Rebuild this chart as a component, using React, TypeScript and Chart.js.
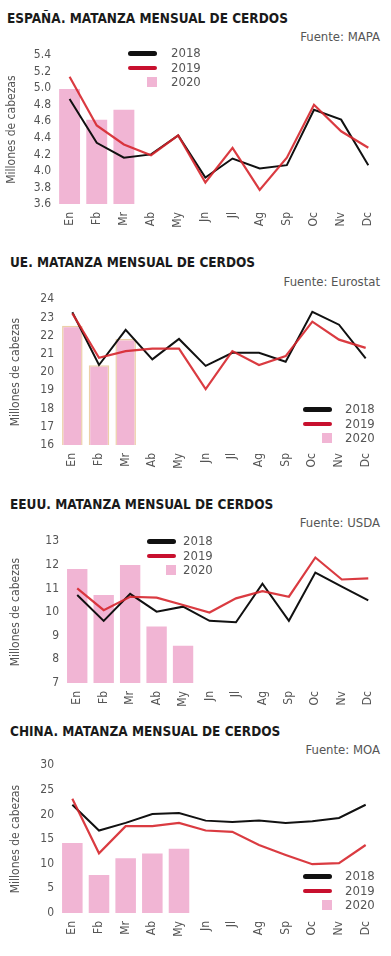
import React, { useEffect, useRef } from "react";
import { Chart, registerables } from "chart.js";
Chart.register(...registerables);

const months = ["En", "Fb", "Mr", "Ab", "My", "Jn", "Jl", "Ag", "Sp", "Oc", "Nv", "Dc"];
const seriesNames = ["2018", "2019", "2020"];
const yAxisTitle = "Millones de cabezas";

const espTitle = "ESPAÑA. MATANZA MENSUAL DE CERDOS";
const espSource = "Fuente: MAPA";
const esp2018 = [4.87, 4.34, 4.16, 4.2, 4.43, 3.92, 4.15, 4.03, 4.07, 4.74, 4.62, 4.07];
const esp2019 = [5.14, 4.55, 4.32, 4.19, 4.43, 3.86, 4.28, 3.77, 4.16, 4.8, 4.48, 4.28];
const esp2020 = [4.99, 4.62, 4.74];
const espTicks = { min: 3.6, max: 5.4, step: 0.2, decimals: 1 };

const ueTitle = "UE. MATANZA MENSUAL DE CERDOS";
const ueSource = "Fuente: Eurostat";
const ue2018 = [23.28, 20.39, 22.32, 20.7, 21.82, 20.34, 21.06, 21.06, 20.57, 23.31, 22.6, 20.75];
const ue2019 = [23.22, 20.79, 21.15, 21.29, 21.29, 19.07, 21.15, 20.39, 20.88, 22.77, 21.78, 21.33];
const ue2020 = [22.54, 20.37, 21.82];
const ueTicks = { min: 16, max: 24, step: 1, decimals: 0 };

const usTitle = "EEUU. MATANZA MENSUAL DE CERDOS";
const usSource = "Fuente: USDA";
const us2018 = [10.72, 9.63, 10.77, 10.02, 10.23, 9.63, 9.57, 11.2, 9.63, 11.67, 11.08, 10.5];
const us2019 = [11.0, 10.08, 10.65, 10.61, 10.3, 9.98, 10.58, 10.89, 10.65, 12.31, 11.38, 11.43];
const us2020 = [11.82, 10.72, 11.99, 9.39, 8.58];
const usTicks = { min: 7, max: 13, step: 1, decimals: 0 };

const cnTitle = "CHINA. MATANZA MENSUAL DE CERDOS";
const cnSource = "Fuente: MOA";
const cn2018 = [21.97, 16.74, 18.29, 20.09, 20.29, 18.75, 18.49, 18.75, 18.29, 18.62, 19.29, 21.97];
const cn2019 = [23.17, 12.12, 17.62, 17.62, 18.29, 16.74, 16.48, 13.8, 11.79, 9.91, 10.11, 13.8];
const cn2020 = [14.2, 7.7, 11.12, 12.06, 13.06];
const cnTicks = { min: 0, max: 30, step: 5, decimals: 0 };

const FONT = "'DejaVu Sans Condensed', 'DejaVu Sans', sans-serif";
const BLACK = "#111111";
const RED = "rgba(214, 38, 44, 0.9)";
const RED_LEG = "#c8102e";
const PINK = "#f1b5d4";
const GRAY = "#555555";

type Geo = {
  titleX: number; titleY: number; srcY: number;
  areaTop: number; areaBottom: number; areaLeft: number; areaRight: number;
  yTitlePad: number;
  legX: number; legY: number; legTextX: number;
  barBorder?: string;
};

type PanelProps = {
  title: string; source: string;
  s18: number[]; s19: number[]; s20: number[];
  ticks: { min: number; max: number; step: number; decimals: number };
  geo: Geo;
};

const PAD_TOP = 10;
const X_AXIS_H = 34;

function Panel({ title, source, s18, s19, s20, ticks, geo }: PanelProps) {
  const ref = useRef<HTMLCanvasElement | null>(null);
  const canvasTop = geo.areaTop - PAD_TOP;
  const canvasH = geo.areaBottom - canvasTop + X_AXIS_H;

  useEffect(() => {
    if (!ref.current) return;
    const chart = new Chart(ref.current, {
      type: "bar",
      data: {
        labels: months,
        datasets: [
          {
            type: "line",
            label: seriesNames[1],
            data: s19,
            borderColor: RED,
            borderWidth: 2.2,
            pointRadius: 0,
            tension: 0,
            order: 0,
          } as any,
          {
            type: "line",
            label: seriesNames[0],
            data: s18,
            borderColor: BLACK,
            borderWidth: 2,
            pointRadius: 0,
            tension: 0,
            order: 1,
          } as any,
          {
            type: "bar",
            label: seriesNames[2],
            data: s20,
            backgroundColor: PINK,
            borderColor: geo.barBorder || PINK,
            borderWidth: geo.barBorder ? 1.5 : 0,
            barPercentage: 0.77,
            categoryPercentage: 1,
            order: 2,
          },
        ],
      },
      options: {
        responsive: false,
        animation: false,
        layout: { padding: { top: PAD_TOP, left: 0, bottom: 0, right: 391 - geo.areaRight } },
        plugins: { legend: { display: false }, tooltip: { enabled: false }, title: { display: false } },
        scales: {
          x: {
            grid: { display: false, drawTicks: false },
            border: { display: false },
            ticks: {
              minRotation: 90,
              maxRotation: 90,
              padding: 8,
              color: GRAY,
              font: { family: FONT, size: 12 },
              autoSkip: false,
            },
            afterFit: (s: any) => { s.height = X_AXIS_H; },
          },
          y: {
            min: ticks.min,
            max: ticks.max,
            grid: { display: false, drawTicks: false },
            border: { display: false },
            ticks: {
              stepSize: ticks.step,
              autoSkip: false,
              padding: 5,
              color: GRAY,
              font: { family: FONT, size: 12 },
              callback: (v: any) => Number(v).toFixed(ticks.decimals),
            },
            title: {
              display: true,
              text: yAxisTitle,
              color: GRAY,
              font: { family: FONT, size: 12 },
              padding: { top: geo.yTitlePad, bottom: 0 },
            },
            afterFit: (s: any) => { s.width = geo.areaLeft; },
          },
        },
      },
    });
    return () => chart.destroy();
  }, []);

  const legendRow = (i: number, kind: "line" | "box", color: string) => (
    <div key={i} style={{ position: "absolute", left: 0, top: geo.legY + i * 14.5 - 8, height: 16, width: 391 }}>
      {kind === "line" ? (
        <div style={{ position: "absolute", left: geo.legX, top: 6, width: 29, height: 4.5, borderRadius: 3, background: color }} />
      ) : (
        <div style={{ position: "absolute", left: geo.legX + 19, top: 3, width: 10, height: 10, background: PINK }} />
      )}
      <div style={{ position: "absolute", left: geo.legTextX, top: 0, lineHeight: "16px", fontFamily: FONT, fontSize: 13, color: GRAY }}>
        {seriesNames[i]}
      </div>
    </div>
  );

  return (
    <>
      <div style={{ position: "absolute", left: geo.titleX, top: geo.titleY - 9, lineHeight: "18px", fontFamily: FONT, fontWeight: "bold", fontSize: 13.5, color: "#1a1a1a", whiteSpace: "nowrap" }}>
        {title}
      </div>
      <div style={{ position: "absolute", right: 11, top: geo.srcY - 9, lineHeight: "18px", fontFamily: FONT, fontSize: 13, color: GRAY, whiteSpace: "nowrap" }}>
        {source}
      </div>
      <canvas ref={ref} width={391} height={canvasH} style={{ position: "absolute", left: 0, top: canvasTop, width: 391, height: canvasH }} />
      {legendRow(0, "line", BLACK)}
      {legendRow(1, "line", RED_LEG)}
      {legendRow(2, "box", PINK)}
    </>
  );
}

export default function App() {
  return (
    <div style={{ position: "absolute", left: 0, top: 0, width: 391, height: 956, background: "#fff", overflow: "hidden" }}>
      <Panel title={espTitle} source={espSource} s18={esp2018} s19={esp2019} s20={esp2020} ticks={espTicks}
        geo={{ titleX: 7, titleY: 18, srcY: 37, areaTop: 53, areaBottom: 204, areaLeft: 56, areaRight: 384, yTitlePad: 5, legX: 128, legY: 53, legTextX: 171 }} />
      <Panel title={ueTitle} source={ueSource} s18={ue2018} s19={ue2019} s20={ue2020} ticks={ueTicks}
        geo={{ titleX: 10, titleY: 262, srcY: 282, areaTop: 297, areaBottom: 445, areaLeft: 59, areaRight: 379, yTitlePad: 9, legX: 303, legY: 409, legTextX: 345, barBorder: "#ecd0a8" }} />
      <Panel title={usTitle} source={usSource} s18={us2018} s19={us2019} s20={us2020} ticks={usTicks}
        geo={{ titleX: 10, titleY: 504, srcY: 523, areaTop: 539, areaBottom: 683, areaLeft: 64, areaRight: 383, yTitlePad: 9, legX: 147, legY: 541, legTextX: 183 }} />
      <Panel title={cnTitle} source={cnSource} s18={cn2018} s19={cn2019} s20={cn2020} ticks={cnTicks}
        geo={{ titleX: 10, titleY: 731, srcY: 750, areaTop: 763, areaBottom: 913, areaLeft: 59, areaRight: 379, yTitlePad: 9, legX: 303, legY: 876, legTextX: 345 }} />
    </div>
  );
}
